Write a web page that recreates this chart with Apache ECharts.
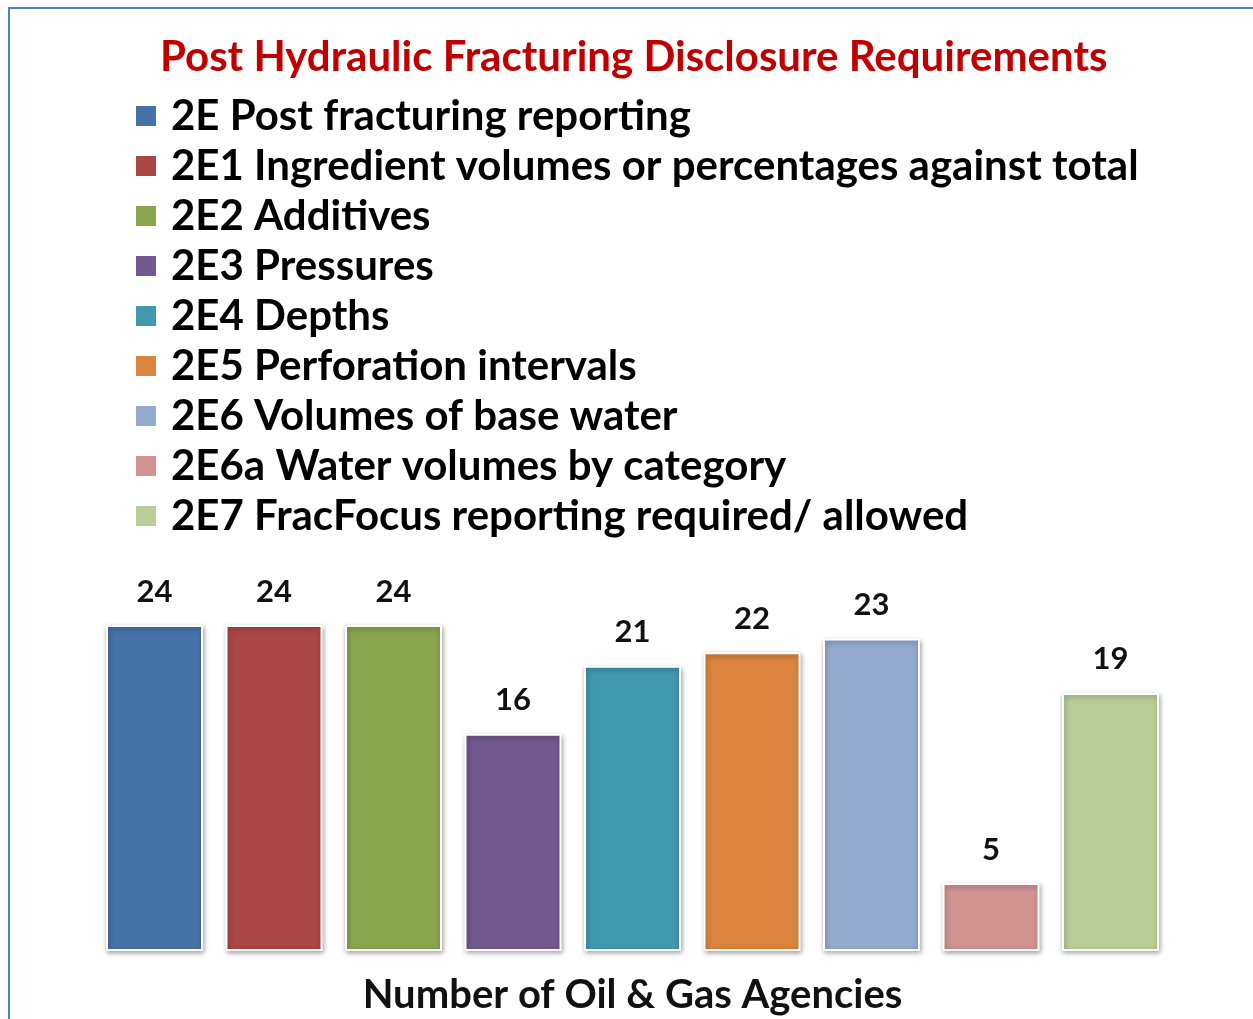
<!DOCTYPE html>
<html><head><meta charset="utf-8">
<script src="https://cdn.jsdelivr.net/npm/echarts@6/dist/echarts.min.js"></script>
<style>
html,body{margin:0;padding:0;background:#fff;}
#frame{position:absolute;left:8px;top:7px;width:1260px;height:1030px;border-left:2px solid #4F81BD;border-top:2px solid #4F81BD;}
#main{position:absolute;left:0;top:0;width:1253px;height:1019px;}
</style></head>
<body><div id="frame"></div><div id="main"></div>
<script>
const categories = ['2E Post fracturing reporting','2E1 Ingredient volumes or percentages against total','2E2 Additives','2E3 Pressures','2E4 Depths','2E5 Perforation intervals','2E6 Volumes of base water','2E6a Water volumes by category','2E7 FracFocus reporting required/ allowed'];
const values = [24,24,24,16,21,22,23,5,19];
const colors = ['#4572A7','#AA4643','#89A54E','#71588F','#4198AF','#DB843D','#93A9CF','#D19392','#B9CD96'];
const titleText = 'Post Hydraulic Fracturing Disclosure Requirements';
const axisName = 'Number of Oil & Gas Agencies';
const FONT = 'Lato';

const series = categories.map((c,i)=>({
  name:c, type:'bar', stack:'all', barWidth:97,
  data: values.map((v,j)=> j===i ? v : null),
  itemStyle:{color:colors[i], borderColor:'#fff', borderWidth:2, shadowBlur:5, shadowColor:'rgba(0,0,0,0.35)', shadowOffsetX:1, shadowOffsetY:2},
  label:{show:true, position:'top', distance:18, color:'#111', fontSize:31, fontWeight:'bold', fontFamily:FONT},
  emphasis:{disabled:true}
}));

const chart = echarts.init(document.getElementById('main'));
chart.setOption({
  animation:false,
  backgroundColor:'transparent',
  title:{text:titleText, left:155, top:31, textStyle:{color:'#C00000', fontSize:42, fontWeight:'bold', fontFamily:FONT}},
  legend:{orient:'vertical', left:134, top:94, padding:0, itemWidth:22, itemHeight:22, itemGap:6, icon:'rect',
    textStyle:{fontSize:42, fontWeight:'bold', color:'#000', fontFamily:FONT, lineHeight:44, padding:[0,0,0,9]},
    data:categories},
  grid:{left:94.75, right:82.75, top:625, bottom:68, containLabel:false, outerBoundsMode:'none'},
  xAxis:{type:'category', data:categories, axisLine:{show:false}, axisTick:{show:false}, axisLabel:{show:false},
    name:axisName, nameLocation:'middle', nameGap:24, nameTextStyle:{fontSize:40, fontWeight:'bold', color:'#111', fontFamily:FONT}},
  yAxis:{type:'value', min:0, max:24, show:false, splitLine:{show:false}},
  series:series
});
</script></body></html>
